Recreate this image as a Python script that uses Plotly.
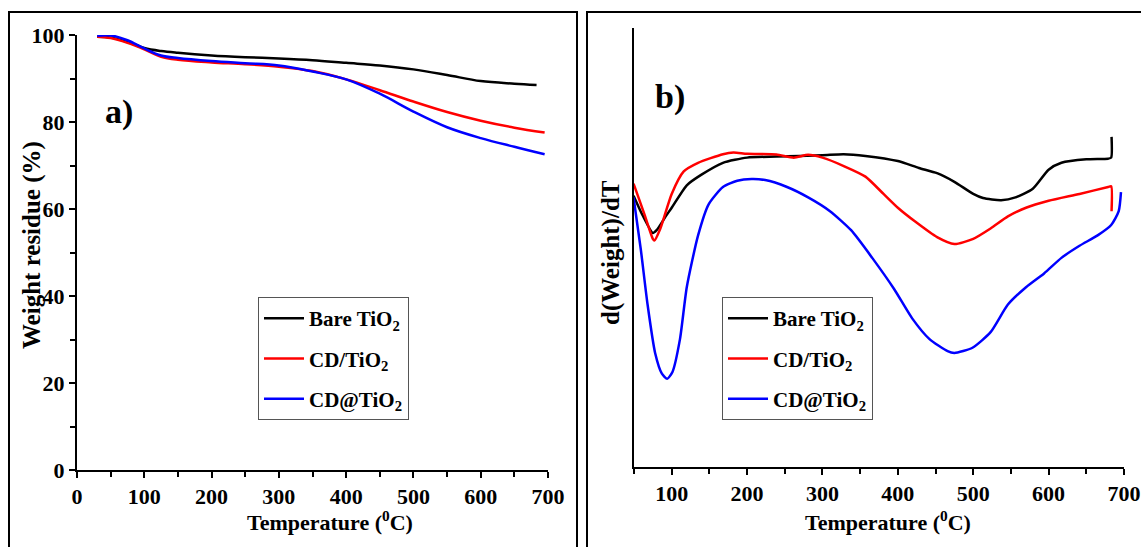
import plotly.graph_objects as go

# ---------------- Panel a) TGA data ----------------
T_bare_tga = [30, 50, 75, 100, 125, 150, 200, 250, 300, 350, 400, 450, 500, 550, 600, 650, 683]
W_bare = [99.6, 99.4, 98.4, 97.0, 96.3, 95.9, 95.3, 94.9, 94.6, 94.2, 93.6, 93.0, 92.1, 90.8, 89.4, 88.8, 88.5]
T_cd_tga = [30, 50, 75, 100, 125, 150, 200, 250, 300, 350, 400, 450, 500, 550, 600, 650, 695]
W_cd = [99.6, 99.3, 98.2, 96.7, 95.0, 94.3, 93.7, 93.3, 92.7, 91.7, 89.8, 87.3, 84.7, 82.3, 80.3, 78.7, 77.6]
W_cdat = [99.8, 99.9, 98.8, 96.9, 95.3, 94.7, 94.0, 93.5, 93.0, 91.6, 89.8, 86.5, 82.4, 78.8, 76.3, 74.3, 72.6]

# ---------------- Panel b) DTG data (arbitrary units) ----------------
T_bare_dtg = [49.4, 61, 75, 80, 92, 100, 120, 139, 168, 200, 239, 300, 328, 357, 400, 428, 452,
              475, 500, 513, 537, 556, 579, 600, 617, 650, 679, 683, 683.5]
D_bare = [785, 730, 677, 685, 725, 750, 815, 845, 880, 895, 898, 902, 905, 900, 885, 865, 850,
          825, 790, 778, 772, 780, 805, 860, 880, 890, 892, 895, 955]
T_cd_dtg = [49.4, 64, 75, 77, 85, 100, 116, 135, 168, 182, 200, 239, 262, 281, 300, 329, 357, 381,
            400, 423, 452, 475, 500, 523, 546, 570, 600, 641, 679, 683, 683.5]
D_cd = [820, 730, 660, 655, 690, 790, 855, 880, 905, 910, 906, 904, 895, 903, 895, 870, 840, 790,
        750, 710, 665, 645, 660, 690, 725, 750, 770, 790, 810, 812, 740]
T_cdat_dtg = [49.4, 59, 68, 78, 87, 94, 101, 111, 120, 135, 149, 168, 187, 206, 224, 253, 281, 310,
              338, 366, 395, 419, 442, 466, 475, 499, 523, 546, 570, 594, 617, 641, 665, 683, 693, 696]
D_cdat = [780, 630, 470, 330, 270, 255, 275, 370, 520, 670, 760, 810, 828, 833, 830, 810, 780, 740,
          685, 605, 515, 430, 370, 335, 330, 345, 390, 470, 520, 560, 605, 640, 670, 700, 740, 795]

names = ["Bare TiO<sub>2</sub>", "CD/TiO<sub>2</sub>", "CD@TiO<sub>2</sub>"]
colors = ["#000000", "#ff0000", "#0000ff"]

x_title = "Temperature (<sup>0</sup>C)"
y_title_a = "Weight residue (%)"
y_title_b = "d(Weight)/dT"

FONT = "Liberation Serif"
W, H = 1141, 547

fig = go.Figure()

tga = [(T_bare_tga, W_bare), (T_cd_tga, W_cd), (T_cd_tga, W_cdat)]
for i, (x, y) in enumerate(tga):
    fig.add_trace(go.Scatter(x=x, y=y, mode="lines", name=names[i], line=dict(color=colors[i], width=2.5, shape="spline"),
                             xaxis="x", yaxis="y", legend="legend", legendgroup="a%d" % i))

dtg = [(T_bare_dtg, D_bare), (T_cd_dtg, D_cd), (T_cdat_dtg, D_cdat)]
for i, (x, y) in enumerate(dtg):
    fig.add_trace(go.Scatter(x=x, y=y, mode="lines", name=names[i], line=dict(color=colors[i], width=2.5, shape="spline", smoothing=0.6),
                             xaxis="x2", yaxis="y2", legend="legend2", legendgroup="b%d" % i))

tickfont = dict(family=FONT, size=22, color="black", weight="bold")
xtitlefont = dict(family=FONT, size=22, color="black", weight="bold")
ytitlefont = dict(family=FONT, size=25, color="black", weight="bold")

common_axis = dict(showline=True, linecolor="black", linewidth=2, ticks="outside", ticklen=6, tickwidth=2,
                   tickcolor="black", showgrid=False, zeroline=False, tickfont=tickfont, mirror=False,
                   automargin=False)

def px_x(p):
    return p / W

def px_y(p):
    return 1 - p / H

legend_common = dict(font=dict(family=FONT, size=21, color="black", weight="bold"), bgcolor="white",
                     bordercolor="#555555", borderwidth=1, xanchor="left", yanchor="top",
                     tracegroupgap=10, traceorder="grouped", itemwidth=40)

fig.update_layout(
    width=W, height=H,
    margin=dict(l=0, r=0, t=0, b=0),
    paper_bgcolor="white", plot_bgcolor="white",
    font=dict(family=FONT, color="black", weight="bold", size=22),
    xaxis=dict(common_axis, domain=[px_x(77), px_x(548)], range=[0, 700], dtick=100,
               minor=dict(ticks="outside", ticklen=5, tickwidth=2, dtick=50, tickcolor="black"), anchor="y"),
    yaxis=dict(common_axis, domain=[px_y(470), px_y(35)], range=[0, 100], dtick=20,
               minor=dict(ticks="outside", ticklen=5, tickwidth=2, dtick=10, tickcolor="black"), anchor="x"),
    xaxis2=dict(common_axis, domain=[px_x(634), px_x(1124)], range=[50, 700], tick0=0, dtick=100,
                minor=dict(ticks="outside", ticklen=5, tickwidth=2, dtick=50, tickcolor="black"), anchor="y2"),
    yaxis2=dict(showline=True, linecolor="black", linewidth=2, ticks="", showticklabels=False,
                showgrid=False, zeroline=False, domain=[px_y(467), px_y(28)], range=[0, 1270],
                anchor="x2", automargin=False),
    legend=dict(legend_common, x=px_x(258), y=px_y(297)),
    legend2=dict(legend_common, x=px_x(722), y=px_y(297)),
    showlegend=True,
)

# Panel borders
fig.add_shape(type="rect", xref="paper", yref="paper", x0=px_x(9), x1=px_x(577), y0=-0.01, y1=px_y(12),
              line=dict(color="black", width=2), layer="below")
fig.add_shape(type="rect", xref="paper", yref="paper", x0=px_x(587), x1=1.01, y0=-0.01, y1=px_y(12),
              line=dict(color="black", width=2), layer="below")

# Axis titles
fig.add_annotation(text=x_title, xref="paper", yref="paper", x=px_x(330), y=px_y(521), xanchor="center", yanchor="middle",
                   showarrow=False, font=xtitlefont)
fig.add_annotation(text=x_title, xref="paper", yref="paper", x=px_x(888), y=px_y(521), xanchor="center", yanchor="middle",
                   showarrow=False, font=xtitlefont)
fig.add_annotation(text=y_title_a, xref="paper", yref="paper", x=px_x(32), y=px_y(245), xanchor="center", yanchor="middle",
                   textangle=-90, showarrow=False, font=ytitlefont)
fig.add_annotation(text=y_title_b, xref="paper", yref="paper", x=px_x(611), y=px_y(253), xanchor="center", yanchor="middle",
                   textangle=-90, showarrow=False, font=ytitlefont)

# Panel labels
fig.add_annotation(text="a)", xref="paper", yref="paper", x=px_x(103), y=px_y(112), xanchor="left", yanchor="middle",
                   showarrow=False, font=dict(family=FONT, size=34, color="black", weight="bold"))
fig.add_annotation(text="b)", xref="paper", yref="paper", x=px_x(653), y=px_y(97), xanchor="left", yanchor="middle",
                   showarrow=False, font=dict(family=FONT, size=34, color="black", weight="bold"))

fig.write_html("out.html")
